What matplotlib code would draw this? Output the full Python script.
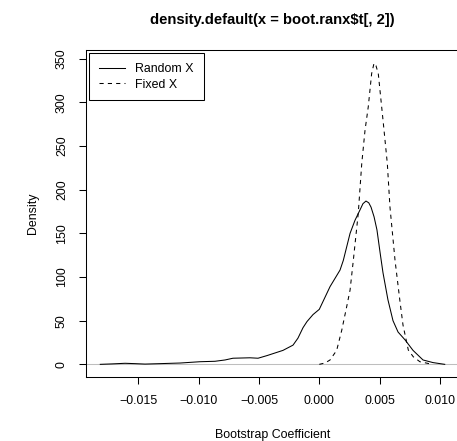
import numpy as np
import matplotlib
matplotlib.use("Agg")
import matplotlib.pyplot as plt

plt.rcParams['font.family'] = ['Liberation Sans', 'DejaVu Sans']

# density estimates
random_x = [-0.01816, -0.01719, -0.01611, -0.01528, -0.01445, -0.01321, -0.01155,
            -0.00989, -0.00865, -0.00782, -0.00716, -0.00575, -0.00508, -0.00434,
            -0.00301, -0.00218, -0.00177, -0.00135, -0.00102, -0.00052, 0.0,
            0.00089, 0.00172, 0.00199, 0.00255, 0.00296, 0.00338, 0.00362, 0.00387,
            0.00410, 0.00429, 0.00454, 0.00478, 0.00505,
            0.00528, 0.00569, 0.00611, 0.00653, 0.00711, 0.00777, 0.0086, 0.00943,
            0.0104]
random_y = [0, 0.5, 1.2, 0.8, 0.3, 0.8, 1.5,
            3, 3.5, 5, 7, 7.5, 7, 10,
            16, 22, 30, 42, 49, 57, 63,
            89, 108, 119, 150, 165, 177, 184, 187,
            185, 180, 169, 154, 127,
            105, 74, 50, 37, 28, 16, 5, 2,
            0]

fixed_x = [0.0, 0.00047, 0.00089, 0.00144, 0.00186, 0.00227, 0.00255, 0.00282,
           0.00323, 0.00352, 0.00379, 0.00406, 0.00434, 0.00454, 0.00470, 0.00489,
           0.00531, 0.00564, 0.00586, 0.00628, 0.00669, 0.00694, 0.00738, 0.00779,
           0.00834, 0.00904, 0.00943]
fixed_y = [0, 1.5, 5, 16, 39, 66, 85, 119,
           173, 230, 268, 295, 333, 345, 342, 333,
           276, 230, 180, 119, 72, 45, 16.4, 8.7,
           3, 1, 0]

xticks = [-0.015, -0.010, -0.005, 0.000, 0.005, 0.010]
yticks = [0, 50, 100, 150, 200, 250, 300, 350]

W, H = 457, 441
fig = plt.figure(figsize=(W / 100, H / 100), dpi=100)
ax = fig.add_axes([86 / W, (H - 377) / H, (458.5 - 86) / W, (377 - 50) / H])

ax.axhline(0, color='#BEBEBE', lw=0.75, zorder=1)
ax.plot(random_x, random_y, color='black', lw=0.75, label='Random X', zorder=3)
ax.plot(fixed_x, fixed_y, color='black', lw=0.75, dashes=(4, 4),
        label='Fixed X', zorder=3)

ax.set_xlim(-0.019345, 0.011542)
ax.set_ylim(-14.5, 360.0)

ax.set_xticks(xticks)
ax.set_xticklabels([('\u2212' if v < 0 else '') + '%.3f' % abs(v) for v in xticks])
ax.set_yticks(yticks)
ax.set_yticklabels([str(v) for v in yticks], rotation=90, va='center')
ax.tick_params(axis='both', direction='out', length=5, width=0.75,
               labelsize=8.9, colors='black')
ax.tick_params(axis='x', pad=8)
ax.tick_params(axis='y', pad=8)

for s in ax.spines.values():
    s.set_linewidth(0.75)
    s.set_color('black')

ax.set_xlabel('Bootstrap Coefficient', fontsize=8.9, labelpad=16)
ax.set_ylabel('Density', fontsize=8.9, labelpad=12)
fig.text((86 + 458.5) / 2 / W, 1 - 20 / H, 'density.default(x = boot.ranx$t[, 2])',
         ha='center', va='center', fontsize=10.6, fontweight='bold')

leg = ax.legend(loc='upper left', bbox_to_anchor=(3 / 372.5, 1 - 3 / 327),
                borderaxespad=0, fontsize=8.9, handlelength=2.1,
                handletextpad=0.85, labelspacing=0.3, borderpad=0.8,
                fancybox=False, edgecolor='black', framealpha=1)
leg.get_frame().set_linewidth(0.75)

fig.savefig('out.png', dpi=100)
